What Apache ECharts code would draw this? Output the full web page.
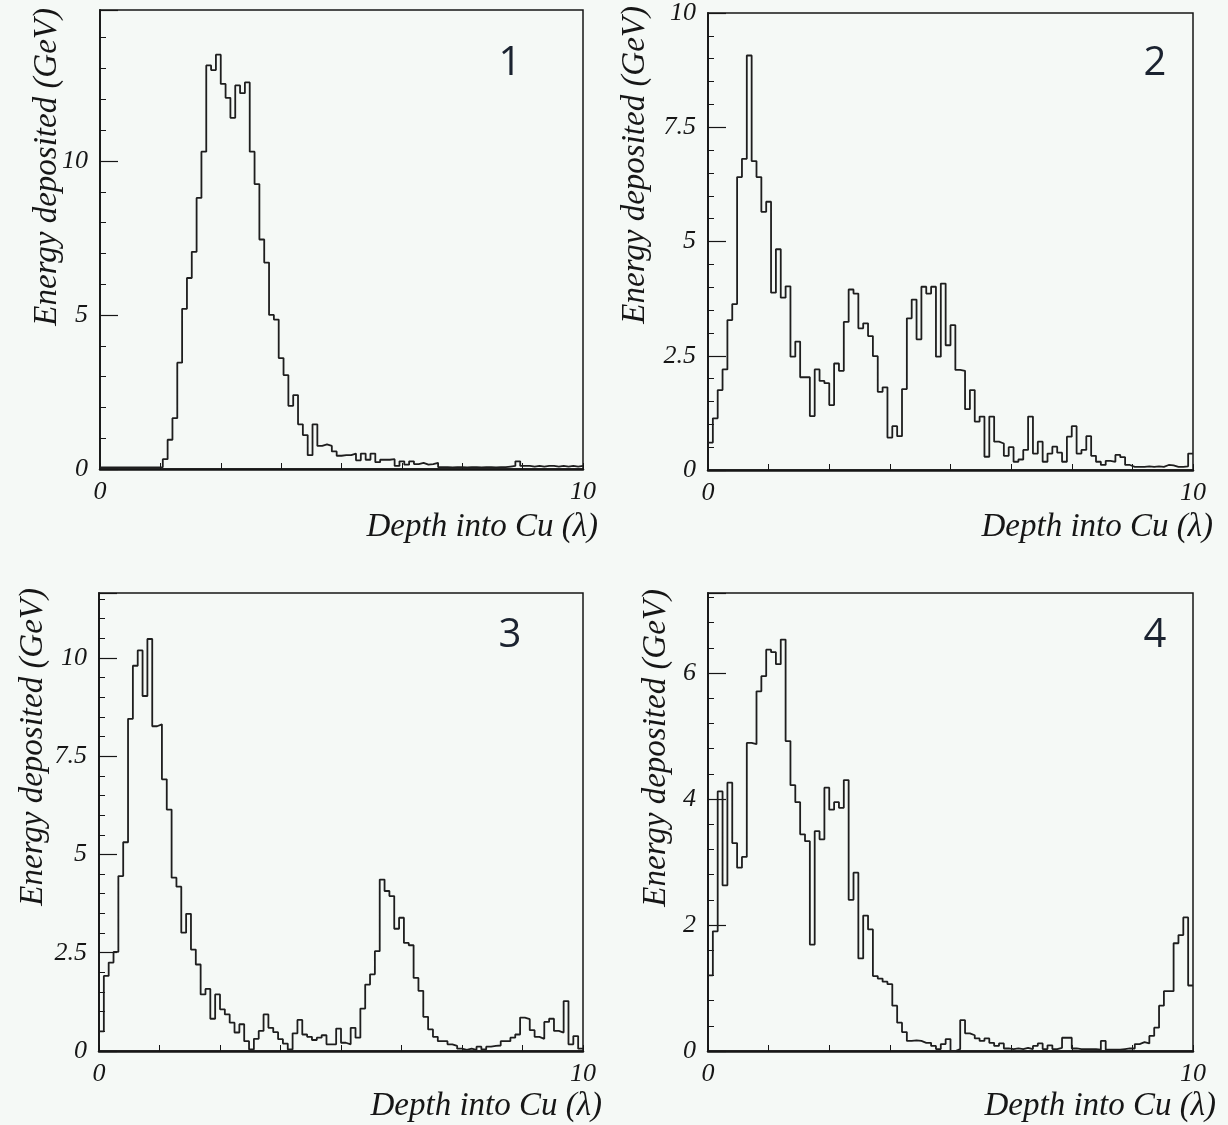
<!DOCTYPE html>
<html>
<head>
<meta charset="utf-8">
<title>Energy deposited vs depth into Cu</title>
<script src="https://cdn.jsdelivr.net/npm/echarts@6/dist/echarts.min.js"></script>
<style>
  html, body { margin: 0; padding: 0; background: #f5f9f6; }
  #chart { width: 1228px; height: 1125px; }
</style>
</head>
<body>
<div id="chart"></div>
<script>
// 100 bins from 0 to 10 lambda, energy per bin (GeV)
const depthRange = [0, 10];

const energy1 = [
  0.05, 0.05, 0.05, 0.05, 0.05, 0.05, 0.05, 0.05, 0.05, 0.05,
  0.05, 0.05, 0.06, 0.32, 0.95, 1.65, 3.45, 5.2, 6.2, 7.05,
  8.8, 10.3, 13.1, 12.95, 13.45, 12.5, 12.05, 11.4, 12.45, 12.2,
  12.55, 10.3, 9.25, 7.45, 6.7, 5.0, 4.85, 3.6, 3.05, 2.05,
  2.4, 1.45, 1.1, 0.45, 1.45, 0.75, 0.8, 0.75, 0.57, 0.43,
  0.45, 0.45, 0.5, 0.28, 0.5, 0.3, 0.5, 0.22, 0.3, 0.3,
  0.32, 0.1, 0.25, 0.14, 0.25, 0.16, 0.2, 0.14, 0.16, 0.2,
  0.06, 0.06, 0.05, 0.06, 0.06, 0.05, 0.06, 0.06, 0.05, 0.06,
  0.06, 0.05, 0.06, 0.06, 0.08, 0.1, 0.25, 0.1, 0.1, 0.08,
  0.1, 0.08, 0.1, 0.1, 0.08, 0.1, 0.08, 0.1, 0.08, 0.1
];

const energy2 = [
  0.6, 1.13, 1.75, 2.2, 3.28, 3.63, 6.41, 6.81, 9.07, 6.76,
  6.41, 5.65, 5.87, 3.88, 4.83, 3.77, 4.02, 2.48, 2.81, 2.03,
  2.03, 1.18, 2.2, 1.95, 1.9, 1.42, 2.33, 2.17, 3.24, 3.95,
  3.86, 3.1, 3.21, 2.93, 2.49, 1.71, 1.81, 0.71, 0.96, 0.74,
  1.77, 3.32, 3.73, 2.86, 4.01, 3.86, 4.01, 2.48, 4.08, 2.73,
  3.17, 2.19, 2.17, 1.33, 1.75, 1.06, 1.17, 0.29, 1.17, 0.62,
  0.58, 0.31, 0.5, 0.18, 0.23, 0.44, 1.17, 0.36, 0.62, 0.18,
  0.36, 0.51, 0.38, 0.18, 0.73, 0.96, 0.36, 0.44, 0.74, 0.31,
  0.18, 0.11, 0.2, 0.18, 0.33, 0.28, 0.11, 0.07, 0.07, 0.07,
  0.08, 0.07, 0.08, 0.07, 0.11, 0.1, 0.07, 0.07, 0.08, 0.36
];

const energy3 = [
  0.5, 1.91, 2.25, 2.52, 4.45, 5.31, 8.45, 9.8, 10.19, 9.03,
  10.48, 8.26, 8.31, 6.91, 6.14, 4.41, 4.18, 3.01, 3.49, 2.58,
  2.2, 1.44, 1.58, 0.82, 1.44, 1.06, 0.93, 0.72, 0.47, 0.68,
  0.25, 0.04, 0.31, 0.51, 0.93, 0.59, 0.48, 0.3, 0.19, 0.04,
  0.45, 0.79, 0.42, 0.36, 0.28, 0.34, 0.4, 0.17, 0.17, 0.57,
  0.21, 0.17, 0.59, 0.34, 1.08, 1.69, 1.95, 2.54, 4.36, 4.07,
  3.94, 3.11, 3.39, 2.75, 2.69, 1.86, 1.53, 0.87, 0.55, 0.36,
  0.25, 0.25, 0.17, 0.13, 0.06, 0.03, 0.06, 0.03, 0.11, 0.04,
  0.11, 0.13, 0.14, 0.25, 0.25, 0.34, 0.42, 0.85, 0.81, 0.53,
  0.36, 0.31, 0.74, 0.82, 0.51, 0.47, 1.27, 0.17, 0.38, 0.06
];

const energy4 = [
  1.2, 1.9, 4.12, 2.63, 4.26, 3.3, 2.91, 3.08, 4.89, 4.87,
  5.71, 5.95, 6.37, 6.33, 6.14, 6.53, 4.92, 4.22, 3.95, 3.44,
  3.33, 1.69, 3.49, 3.36, 4.18, 3.83, 3.95, 3.86, 4.3, 2.4,
  2.83, 1.47, 2.15, 1.93, 1.19, 1.15, 1.1, 1.06, 0.72, 0.45,
  0.3, 0.16, 0.17, 0.16, 0.13, 0.13, 0.08, 0.03, 0.11, 0.19,
  0.0, 0.03, 0.49, 0.28, 0.25, 0.2, 0.16, 0.2, 0.13, 0.08,
  0.12, 0.04, 0.03, 0.04, 0.03, 0.05, 0.03, 0.08, 0.12, 0.03,
  0.09, 0.03, 0.05, 0.21, 0.21, 0.04, 0.03, 0.03, 0.03, 0.03,
  0.02, 0.16, 0.02, 0.02, 0.02, 0.03, 0.04, 0.04, 0.11, 0.14,
  0.12, 0.24, 0.37, 0.72, 0.95, 0.95, 1.71, 1.84, 2.12, 1.04
];

const panelLabels = ['1', '2', '3', '4'];
const yMax = [14.9, 10, 11.65, 7.27];
const yMajor = [5, 2.5, 2.5, 2];
const yMinor = [1, 0.5, 0.5, 0.4];
const xTickStep = 1.25;
const xLabelValues = [0, 10];
const yTitle = 'Energy deposited (GeV)';
const xTitle = 'Depth into Cu (λ)';

const allEnergy = [energy1, energy2, energy3, energy4];

// panel layout (pixels)
const boxes = [
  { left: 100, top: 10, width: 483, height: 459 },
  { left: 708, top: 11, width: 485, height: 459 },
  { left: 99, top: 593, width: 484, height: 458 },
  { left: 708, top: 593, width: 485, height: 458 }
];
// where the loose texts sit
const yTitlePos = [[47, 8], [635, 6], [33, 588], [656, 589]];
const xTitlePos = [[598, 527], [1213, 527], [602, 1106], [1216, 1106]];
const numberPos = [[510, 64], [1155, 64], [510, 636], [1155, 636]];

const ink = '#161616';
const serif = '"Liberation Serif", "DejaVu Serif", serif';

// step points: left edge of each bin + closing point at the right end
function histPoints(vals) {
  const w = (depthRange[1] - depthRange[0]) / vals.length;
  const pts = vals.map((v, i) => [depthRange[0] + i * w, v]);
  pts.push([depthRange[1], vals[vals.length - 1]]);
  return pts;
}

function onStep(v, step) {
  const r = v / step;
  return Math.abs(r - Math.round(r)) < 1e-6;
}

const grids = [], xAxes = [], yAxes = [], series = [], graphics = [];

boxes.forEach((b, p) => {
  grids.push({
    left: b.left, top: b.top, width: b.width, height: b.height,
    show: true, borderColor: ink, borderWidth: 1.5, backgroundColor: 'transparent'
  });

  xAxes.push({
    type: 'value', gridIndex: p,
    min: depthRange[0], max: depthRange[1], interval: xTickStep,
    axisLine: { show: true, lineStyle: { color: ink, width: 2.5 } },
    axisTick: { show: true, inside: true, length: 6, lineStyle: { color: ink, width: 1 } },
    splitLine: { show: false },
    axisLabel: {
      margin: 10, color: ink, fontFamily: serif, fontStyle: 'italic', fontSize: 26,
      formatter: v => xLabelValues.indexOf(v) >= 0 ? String(v) : ''
    }
  });

  // major ticks + labels
  yAxes.push({
    type: 'value', gridIndex: p, position: 'left',
    min: 0, max: yMax[p], interval: yMajor[p],
    axisLine: { show: true, lineStyle: { color: ink, width: 1.8 } },
    axisTick: { show: true, inside: true, length: 18, lineStyle: { color: ink, width: 1.2 } },
    splitLine: { show: false },
    axisLabel: {
      margin: 12, color: ink, fontFamily: serif, fontStyle: 'italic', fontSize: 26,
      formatter: v => onStep(v, yMajor[p]) ? String(v) : ''
    }
  });
  // minor ticks
  yAxes.push({
    type: 'value', gridIndex: p, position: 'left', offset: 0,
    min: 0, max: yMax[p], interval: yMinor[p],
    axisLine: { show: false },
    axisTick: { show: true, inside: true, length: 6, lineStyle: { color: ink, width: 1 } },
    splitLine: { show: false },
    axisLabel: { show: false }
  });

  series.push({
    type: 'line', name: 'Panel ' + panelLabels[p],
    xAxisIndex: p, yAxisIndex: 2 * p,
    step: 'end', symbol: 'none', silent: true,
    lineStyle: { color: '#1e1e1e', width: 1.8 },
    data: histPoints(allEnergy[p])
  });

  // y title, rotated, hanging from the top of the panel
  graphics.push({
    type: 'text', x: yTitlePos[p][0], y: yTitlePos[p][1], rotation: Math.PI / 2,
    style: {
      text: yTitle, font: 'italic 33px ' + serif, fill: ink,
      align: 'right', verticalAlign: 'middle'
    }
  });
  // x title, right aligned past the panel edge
  graphics.push({
    type: 'text', x: xTitlePos[p][0], y: xTitlePos[p][1],
    style: {
      text: xTitle, font: 'italic 33px ' + serif, fill: ink,
      align: 'right', verticalAlign: 'middle'
    }
  });
  // panel number
  graphics.push({
    type: 'text', x: numberPos[p][0], y: numberPos[p][1],
    style: {
      text: panelLabels[p], font: '40px "Open Sans", "Noto Sans", sans-serif', fill: '#1b2330',
      align: 'center', verticalAlign: 'middle'
    }
  });
});

const chart = echarts.init(document.getElementById('chart'), null, { renderer: 'canvas' });
chart.setOption({
  backgroundColor: '#f5f9f6',
  animation: false,
  grid: grids,
  xAxis: xAxes,
  yAxis: yAxes,
  series: series,
  graphic: graphics
});
</script>
</body>
</html>
